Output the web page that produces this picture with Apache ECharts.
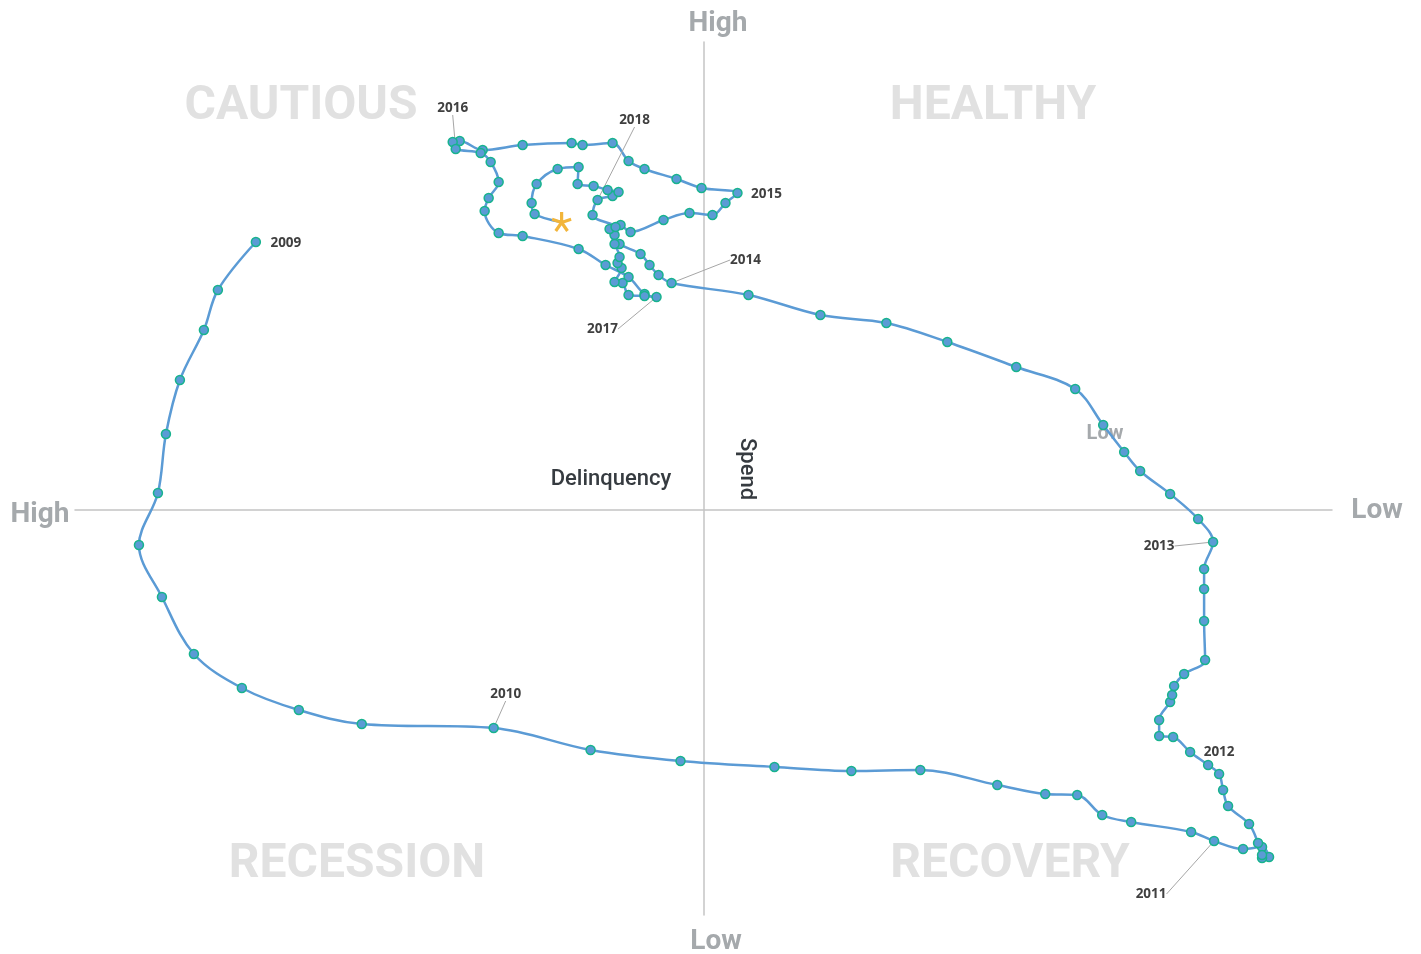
<!DOCTYPE html>
<html>
<head>
<meta charset="utf-8">
<title>Delinquency vs Spend cycle</title>
<script src="https://cdn.jsdelivr.net/npm/echarts@6/dist/echarts.min.js"></script>
<style>
  html, body { margin: 0; padding: 0; background: #ffffff; }
  #chart { width: 1421px; height: 954px; }
</style>
</head>
<body>
<div id="chart"></div>
<script>
// Monthly readings, January 2009 onward (delinquency: positive = high; spend: positive = high)
const delinquency = [
  44.8, 48.6, 50.0, 52.4, 53.8, 54.6, 56.5, 54.2, 51.0, 46.2, 40.5, 34.2,
  21.0, 11.3, 2.3, -7.1, -14.8, -21.7, -29.4, -34.2, -37.4, -39.9, -42.8, -48.8,
  -51.1, -54.0, -55.9, -56.6, -55.9, -55.9, -55.5, -54.6, -52.5, -52.0, -51.6, -50.5,
  -48.7, -47.0, -45.6, -45.6, -46.7, -46.9, -47.1, -48.1, -50.2, -50.1, -50.1, -50.1,
  -51.0, -49.5, -46.7, -43.7, -42.1, -40.0, -37.2, -31.3, -24.4, -18.3, -11.7, -4.5,
  3.2, 4.5, 5.4, 6.3, 8.4, 8.9, 8.3, 7.3, 4.0, 1.4, -0.9, -2.2,
  -3.4, 0.2, 2.7, 5.9, 7.5, 9.1, 12.1, 13.2, 18.1, 22.1, 24.4, 25.1,
  24.8, 22.3, 21.3, 20.5, 21.5, 21.9, 20.5, 18.1, 12.5, 9.8, 7.5, 5.9,
  4.7, 5.9, 7.5, 8.1, 8.9, 8.2, 8.6, 8.4, 8.9, 9.4, 8.8, 11.1,
  10.6, 9.1, 8.5, 9.6, 11.0, 12.6, 12.5, 14.6, 16.7, 17.2, 16.9, 14.2
];
const spend = [
  26.8, 22.0, 18.0, 13.0, 7.6, 1.7, -3.5, -8.7, -14.4, -17.8, -20.0, -21.4,
  -21.8, -24.0, -25.1, -25.7, -26.1, -26.0, -27.5, -28.4, -28.5, -30.5, -31.2, -32.2,
  -33.1, -33.9, -33.7, -34.7, -34.8, -34.5, -33.3, -31.4, -29.6, -28.0, -26.4, -25.5,
  -24.2, -22.7, -22.6, -21.0, -19.2, -18.5, -17.6, -16.4, -15.0, -11.1, -7.9, -5.9,
  -3.2, -0.9, 1.6, 3.9, 5.8, 8.5, 12.1, 14.3, 16.8, 18.7, 19.5, 21.5,
  22.7, 23.5, 24.5, 25.6, 26.6, 27.5, 28.5, 27.8, 29.0, 29.7, 29.5, 30.7,
  31.7, 32.2, 33.1, 34.1, 34.9, 36.7, 36.5, 36.7, 36.5, 36.0, 36.9, 36.8,
  36.1, 35.7, 34.8, 32.8, 31.2, 29.9, 27.7, 27.4, 26.1, 24.5, 23.3, 21.6,
  21.3, 21.4, 21.5, 22.7, 22.8, 24.2, 24.7, 25.3, 26.6, 28.1, 28.3, 29.5,
  31.0, 31.4, 31.8, 32.0, 32.4, 32.6, 34.3, 34.1, 32.6, 30.7, 29.6, 28.8
];
// Year tags sit on each January reading
const years = ['2009', '2010', '2011', '2012', '2013', '2014', '2015', '2016', '2017', '2018'];
const quadrantNames = ['CAUTIOUS', 'HEALTHY', 'RECESSION', 'RECOVERY'];
const axisEnds = { delinquencyHigh: 'High', delinquencyLow: 'Low', spendHigh: 'High', spendLow: 'Low' };
const axisTitles = { x: 'Delinquency', y: 'Spend' };

// Label placement (offset from the point, in px) and whether a guide line is drawn
const yearLabelStyle = {
  '2009': { dx: 30, dy: 1, line: false },
  '2010': { dx: 12, dy: -34, line: true },
  '2011': { dx: -63, dy: 53, line: true },
  '2012': { dx: 29, dy: 0, line: false },
  '2013': { dx: -54, dy: 4, line: true },
  '2014': { dx: 74, dy: -23, line: true },
  '2015': { dx: 29, dy: 1, line: false },
  '2016': { dx: -3, dy: -41, line: true },
  '2017': { dx: -54, dy: 32, line: true },
  '2018': { dx: 37, dy: -80, line: true }
};

const STAR_PATH = 'path://M42 50 L42 0 L58 0 L58 50 Z ' +
  'M47.5 42.4 L95.1 26.9 L100 42.1 L52.5 57.6 Z ' +
  'M56.5 45.3 L85.9 85.8 L73 95.2 L43.5 54.7 Z ' +
  'M56.5 54.7 L27.1 95.2 L14.1 85.8 L43.5 45.3 Z ' +
  'M47.5 57.6 L0 42.1 L4.9 26.9 L52.5 42.4 Z ' +
  'M40 40 L60 40 L60 60 L40 60 Z';

const lastIndex = delinquency.length - 1;
const seriesData = delinquency.map(function (d, i) {
  const item = { value: [d, spend[i]] };
  if (i % 12 === 0 && years[i / 12]) {
    const yr = years[i / 12];
    item.label = { show: true, formatter: yr };
    item.labelLine = { show: yearLabelStyle[yr].line };
  }
  if (i === lastIndex) {
    item.symbol = STAR_PATH;
    item.symbolSize = 20;
    item.itemStyle = { color: '#F2B53A', borderWidth: 0 };
  }
  return item;
});

const chart = echarts.init(document.getElementById('chart'), null, { renderer: 'canvas' });

const quadFont = 'bold 48px Roboto';
const quadColor = '#E1E1E1';
const endFont = 'bold 28px Roboto';
const endColor = '#A5A9AC';

function txt(text, x, y, font, fill, extra) {
  return Object.assign({
    type: 'text', x: x, y: y, silent: true,
    style: { text: text, font: font, fill: fill, align: 'center', verticalAlign: 'middle',
             textAlign: 'center', textVerticalAlign: 'middle' }
  }, extra || {});
}

chart.setOption({
  animation: false,
  backgroundColor: '#ffffff',
  grid: { left: 75, right: 89, top: 42, bottom: 39, containLabel: false },
  xAxis: {
    type: 'value', min: -62.9, max: 62.9, inverse: true,
    axisLine: { show: true, onZero: true, lineStyle: { color: '#C4C4C4', width: 1.5 } },
    axisTick: { show: false }, axisLabel: { show: false }, splitLine: { show: false }
  },
  yAxis: {
    type: 'value', min: -40.5, max: 46.8,
    axisLine: { show: true, onZero: true, lineStyle: { color: '#C4C4C4', width: 1.5 } },
    axisTick: { show: false }, axisLabel: { show: false }, splitLine: { show: false }
  },
  graphic: [
    txt(quadrantNames[0], 301, 107, quadFont, quadColor, { z: -10 }),
    txt(quadrantNames[1], 993, 107, quadFont, quadColor, { z: -10 }),
    txt(quadrantNames[2], 357, 865, quadFont, quadColor, { z: -10 }),
    txt(quadrantNames[3], 1010, 865, quadFont, quadColor, { z: -10 }),
    txt(axisEnds.delinquencyHigh, 40, 515, endFont, endColor),
    txt(axisEnds.delinquencyLow, 1377, 511, endFont, endColor),
    txt(axisEnds.spendHigh, 718, 24, endFont, endColor),
    txt(axisEnds.spendLow, 716, 942, endFont, endColor),
    txt(axisEnds.delinquencyLow, 1105, 434, 'bold 20px Roboto', endColor),
    txt(axisTitles.x, 611, 479, '500 22px Roboto', '#363B40'),
    txt(axisTitles.y, 746, 469, '500 22px Roboto', '#363B40', { rotation: -Math.PI / 2 })
  ],
  series: [{
    type: 'line',
    data: seriesData,
    smooth: 0.35,
    symbol: 'circle',
    symbolSize: 9,
    showAllSymbol: true,
    lineStyle: { color: '#5B9BD5', width: 2.5 },
    itemStyle: { color: '#5B9BD5', borderColor: '#18B38E', borderWidth: 1.5 },
    label: {
      show: false, position: 'inside',
      color: '#404040', fontFamily: '"Open Sans"', fontWeight: 'bold', fontSize: 13.5
    },
    labelLine: { show: false, lineStyle: { color: '#A6A6A6', width: 1 } },
    labelLayout: function (params) {
      const yr = years[params.dataIndex / 12];
      const s = yr && yearLabelStyle[yr];
      if (!s) return {};
      return { dx: s.dx, dy: s.dy };
    },
    emphasis: { disabled: true },
    z: 3
  }]
});
</script>
</body>
</html>
